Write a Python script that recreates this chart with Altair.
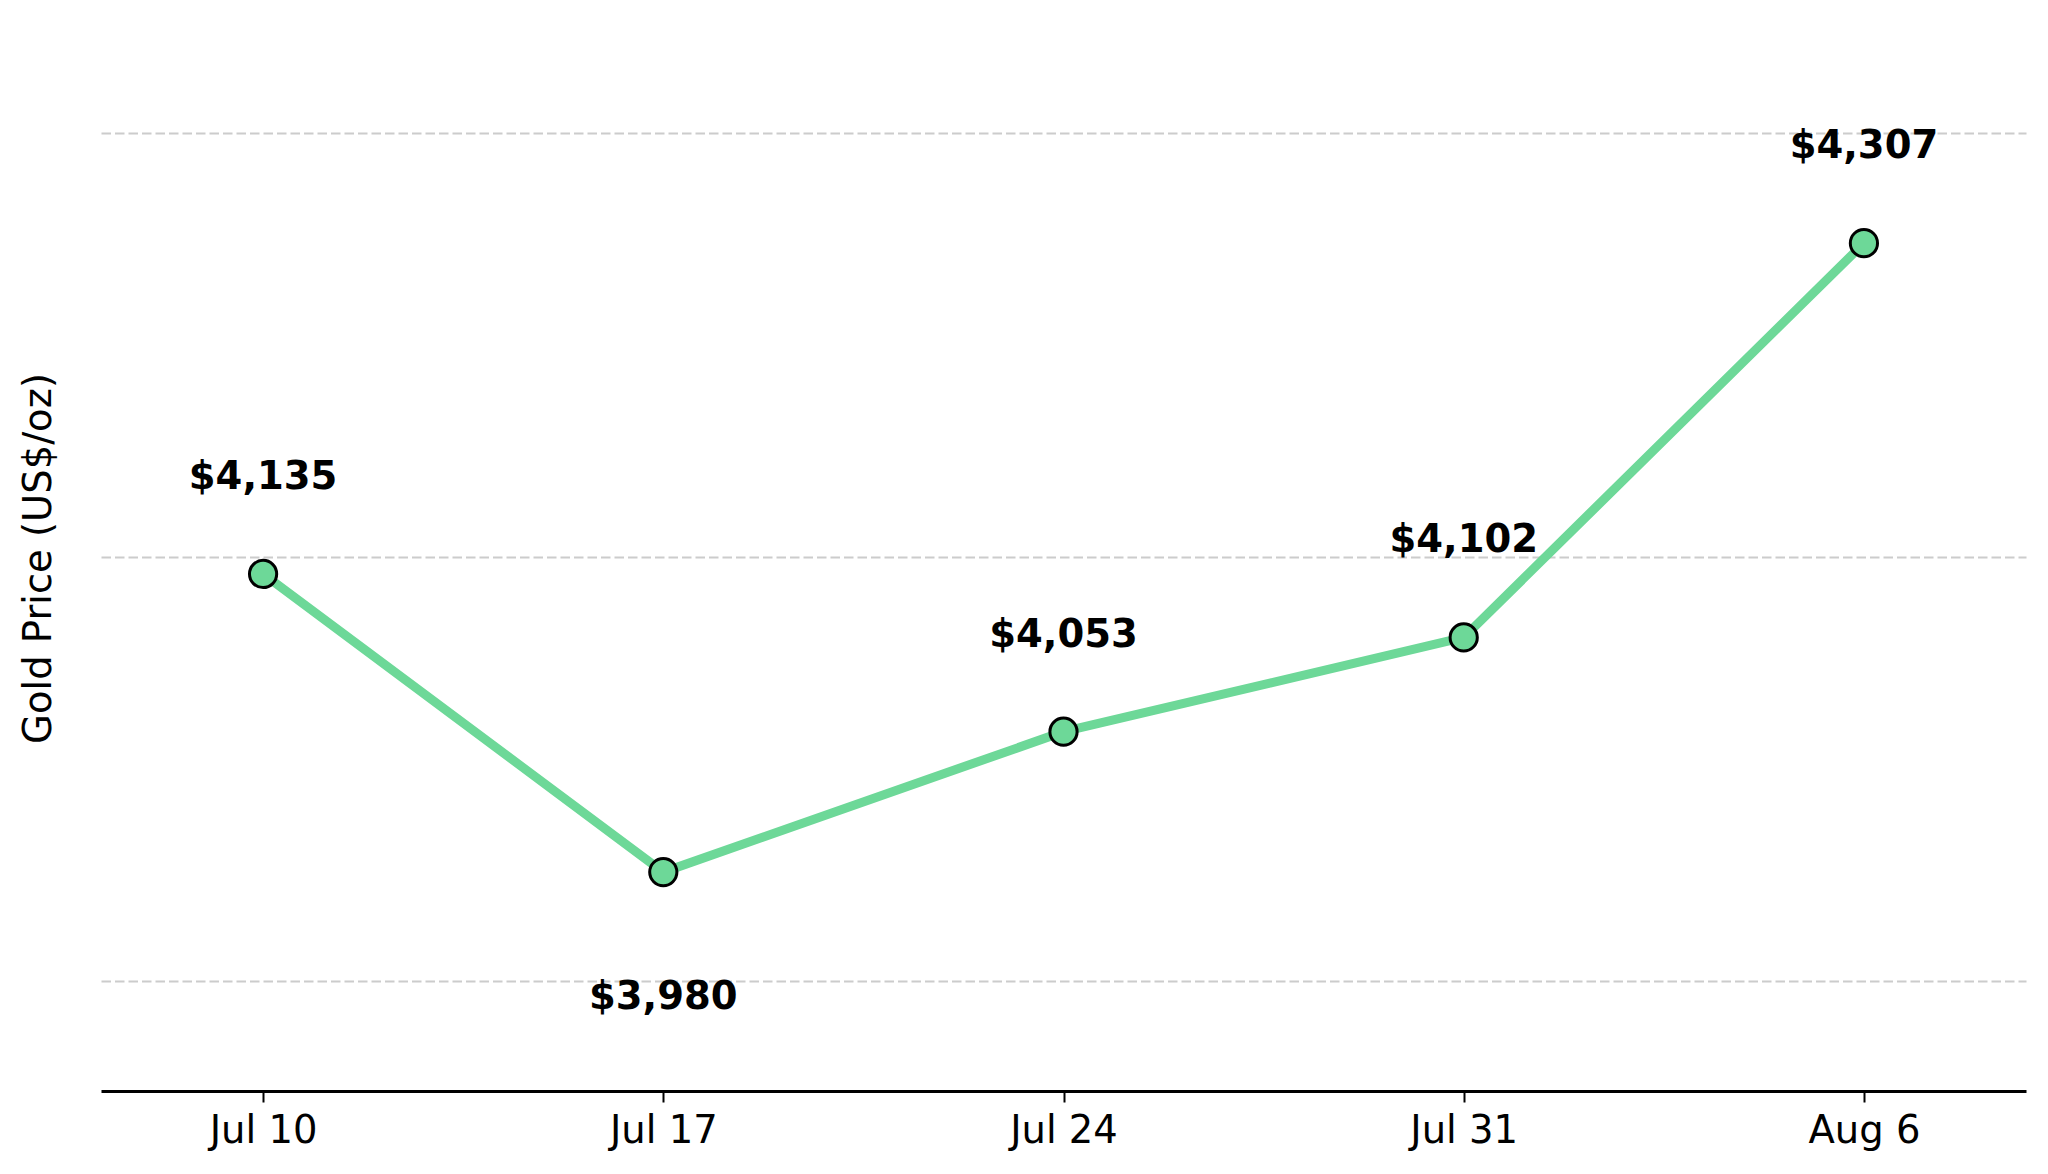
import altair as alt
import pandas as pd

dates = ["Jul 10", "Jul 17", "Jul 24", "Jul 31", "Aug 6"]
prices = [4135, 3980, 4053, 4102, 4307]
grid_values = [3923.4, 4143.8, 4364.3]
y_domain = [3866.2, 4423.0]

df = pd.DataFrame({"date": dates, "price": prices})

FONT = "DejaVu Sans"
GREEN = "#6dd898"
FS = 38.5

x_enc = alt.X(
    "date:O",
    sort=dates,
    scale=alt.Scale(type="point", padding=0.405),
    axis=alt.Axis(
        title=None,
        labelAngle=0,
        labelFont=FONT,
        labelFontSize=FS,
        labelColor="black",
        labelPadding=10,
        domainColor="black",
        domainWidth=3,
        tickColor="black",
        tickWidth=2,
        tickSize=11,
        grid=False,
    ),
)
y_enc = alt.Y(
    "price:Q",
    scale=alt.Scale(domain=y_domain, zero=False, nice=False),
    axis=alt.Axis(
        title="Gold Price (US$/oz)",
        titleFont=FONT,
        titleFontSize=FS,
        titleFontWeight="normal",
        titleColor="black",
        titleX=-63,
        titleY=538,
        titleAlign="center",
        titleBaseline="middle",
        labels=False,
        ticks=False,
        domain=False,
        grid=True,
        values=grid_values,
        gridColor="#cccccc",
        gridWidth=2,
        gridDash=[9.5, 4],
    ),
)

base = alt.Chart(df).encode(x=x_enc, y=y_enc)

line = base.mark_line(color=GREEN, strokeWidth=9)
points = base.mark_point(
    filled=True, fill=GREEN, stroke="black", strokeWidth=3, size=740, opacity=1
)

labels_base = base.transform_joinaggregate(minp="min(price)")
labels_above = labels_base.transform_filter("datum.price > datum.minp").mark_text(
    font=FONT, fontSize=FS, fontWeight="bold", color="black",
    align="center", baseline="middle", dy=-97,
).encode(text=alt.Text("price:Q", format="$,.0f"))
labels_below = labels_base.transform_filter("datum.price == datum.minp").mark_text(
    font=FONT, fontSize=FS, fontWeight="bold", color="black",
    align="center", baseline="middle", dy=125,
).encode(text=alt.Text("price:Q", format="$,.0f"))

chart = (
    alt.layer(line, points, labels_above, labels_below)
    .properties(
        width=1925,
        height=1071,
        autosize=alt.AutoSizeParams(type="none"),
        padding={"left": 93, "top": 12, "right": 14, "bottom": 60},
        background="white",
    )
    .configure_view(strokeWidth=0, stroke=None)
)

chart.save("out.html", embed_options={"renderer": "svg", "actions": False})
